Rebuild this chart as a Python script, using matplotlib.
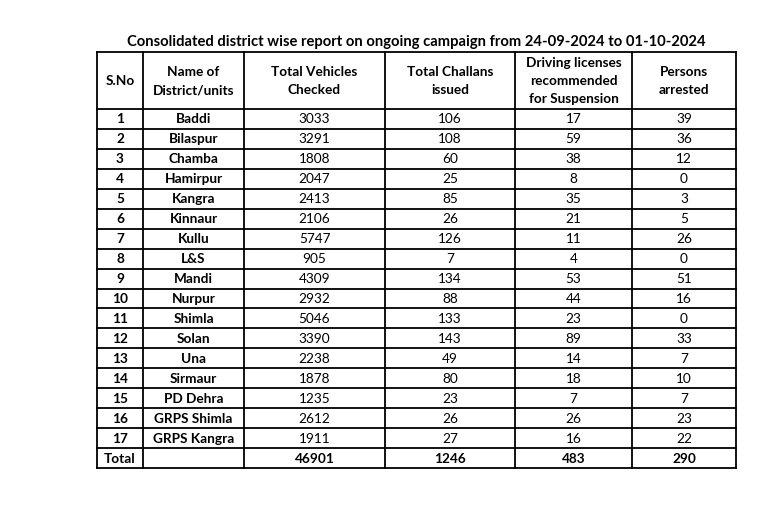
import matplotlib
matplotlib.use("Agg")
import matplotlib.pyplot as plt

title = "Consolidated district wise report on ongoing campaign from 24-09-2024 to 01-10-2024"
headers = ["S.No", "Name of\nDistrict/units", "Total Vehicles\nChecked", "Total Challans\nissued",
           "Driving licenses\nrecommended\nfor Suspension", "Persons\narrested"]
sno = [str(i) for i in range(1, 18)]
districts = ["Baddi", "Bilaspur", "Chamba", "Hamirpur", "Kangra", "Kinnaur", "Kullu", "L&S", "Mandi",
             "Nurpur", "Shimla", "Solan", "Una", "Sirmaur", "PD Dehra", "GRPS Shimla", "GRPS Kangra"]
vehicles = [3033, 3291, 1808, 2047, 2413, 2106, 5747, 905, 4309, 2932, 5046, 3390, 2238, 1878, 1235, 2612, 1911]
challans = [106, 108, 60, 25, 85, 26, 126, 7, 134, 88, 133, 143, 49, 80, 23, 26, 27]
licenses = [17, 59, 38, 8, 35, 21, 11, 4, 53, 44, 23, 89, 14, 18, 7, 26, 16]
arrested = [39, 36, 12, 0, 3, 5, 26, 0, 51, 16, 0, 33, 7, 10, 7, 23, 22]
totals = ["Total", "", "46901", "1246", "483", "290"]

W, H = 782, 509
fig = plt.figure(figsize=(W / 100, H / 100), dpi=100)
ax = fig.add_axes([0, 0, 1, 1])
ax.set_xlim(0, W)
ax.set_ylim(H, 0)
ax.axis("off")

FONT = "Lato"
col_x = [97, 143, 244, 385, 515, 632, 736]
top, head_bot, bottom = 52, 109, 468
nrows = len(districts) + 1
row_h = (bottom - head_bot) / nrows

lw = 1.3
for x in col_x:
    ax.plot([x, x], [top, bottom], color="black", lw=lw, solid_capstyle="projecting")
ys = [top, head_bot] + [head_bot + row_h * (i + 1) for i in range(nrows)]
for y in ys:
    ax.plot([col_x[0], col_x[-1]], [y, y], color="black", lw=lw, solid_capstyle="projecting")

ax.text(416, 42, title, ha="center", va="center", fontsize=10.6,
        fontweight="bold", family=FONT, color="black")

centers = [(col_x[i] + col_x[i + 1]) / 2 for i in range(6)]
for c, h in zip(centers, headers):
    ax.text(c, (top + head_bot) / 2 + 0.5, h, ha="center", va="center", fontsize=9.8,
            fontweight="bold", family=FONT, linespacing=1.62, color="black")

rows = []
for i in range(len(districts)):
    rows.append([sno[i], districts[i], str(vehicles[i]), str(challans[i]), str(licenses[i]), str(arrested[i])])
rows.append(totals)

for r, row in enumerate(rows):
    yc = head_bot + row_h * (r + 0.5) + 0.5
    for c, val in enumerate(row):
        bold = (c < 2) or (r == len(rows) - 1)
        ax.text(centers[c], yc, val, ha="center", va="center", fontsize=9.8,
                fontweight="bold" if bold else "normal", family=FONT, color="black")

fig.savefig("out.png", dpi=100, facecolor="white")
